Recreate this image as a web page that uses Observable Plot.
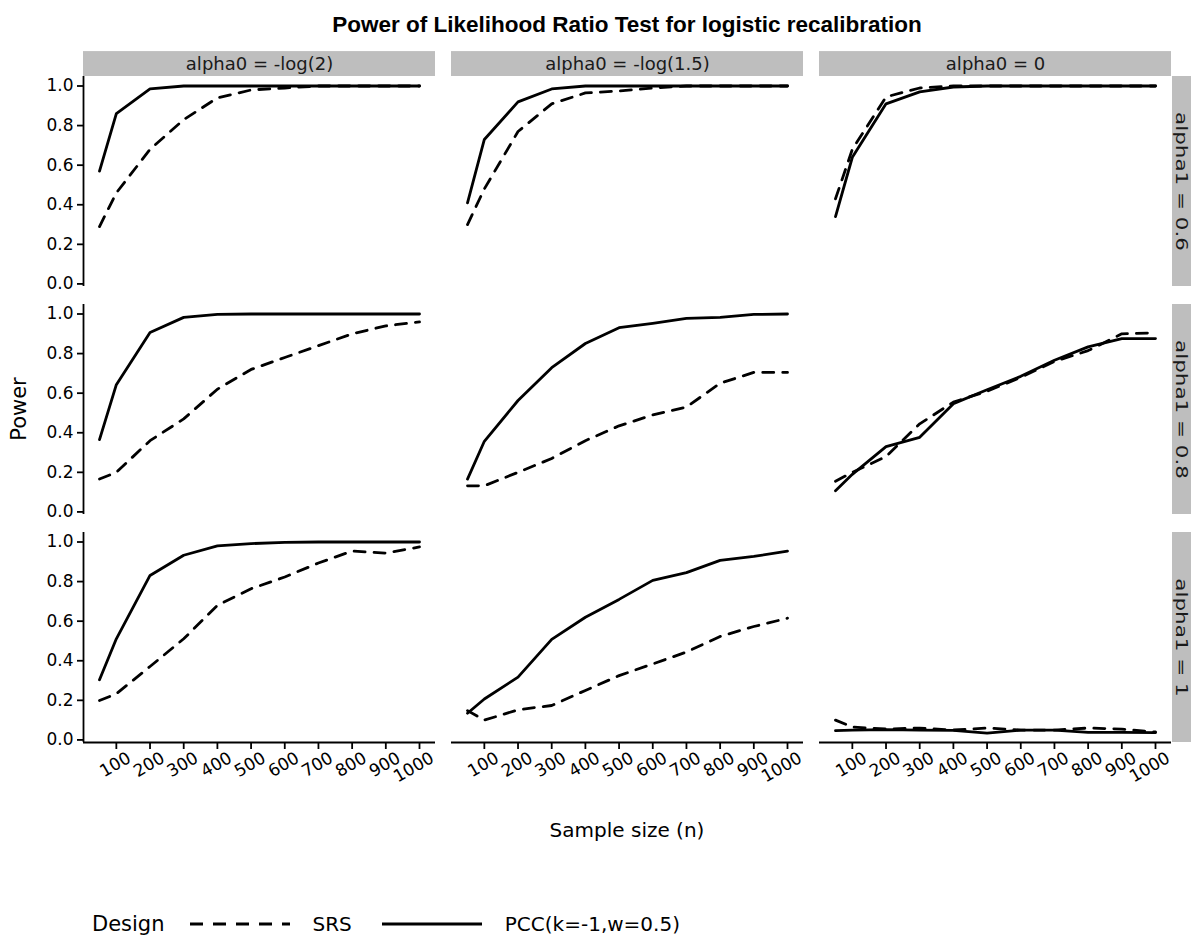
<!DOCTYPE html>
<html>
<head>
<meta charset="utf-8">
<script src="https://cdn.jsdelivr.net/npm/d3@7"></script>
<script src="https://cdn.jsdelivr.net/npm/@observablehq/plot@0.6"></script>
<style>
  html, body { margin: 0; padding: 0; background: #ffffff; }
  #wrap { position: relative; width: 1191px; height: 939px; background: #ffffff; font-family: "DejaVu Sans", sans-serif; color: #000; overflow: hidden; }
  #chart { position: absolute; left: 0; top: 0; }
  #title { position: absolute; left: 82px; width: 1090px; top: 12px; text-align: center; font-family: "Liberation Sans", Arial, sans-serif; font-weight: bold; font-size: 22.5px; line-height: 26px; }
  #ylab { position: absolute; left: 19px; top: 409px; transform: translate(-50%, -50%) rotate(-90deg); font-size: 21px; white-space: nowrap; }
  #xlab { position: absolute; left: 82px; width: 1090px; top: 818px; text-align: center; font-size: 20px; line-height: 24px; }
  #legend { position: absolute; left: 92px; top: 912px; display: flex; align-items: center; font-size: 20px; line-height: 24px; white-space: nowrap; }
  #legend .ttl { font-size: 21px; margin-right: 25px; }
  #legend svg { display: block; }
  #legend .lab { margin-left: 23px; margin-right: 30px; }
</style>
</head>
<body>
<div id="wrap">
  <div id="chart"></div>
  <div id="title"></div>
  <div id="ylab"></div>
  <div id="xlab"></div>
  <div id="legend"></div>
</div>
<script>
// ---- data ----
const sampleSizes = [50, 100, 200, 300, 400, 500, 600, 700, 800, 900, 1000];
const colLabels = ["alpha0 = -log(2)", "alpha0 = -log(1.5)", "alpha0 = 0"];
const rowLabels = ["alpha1 = 0.6", "alpha1 = 0.8", "alpha1 = 1"];
const designLabels = ["SRS", "PCC(k=-1,w=0.5)"];
const yTicks = [0, 0.2, 0.4, 0.6, 0.8, 1.0];
const xTicks = [100, 200, 300, 400, 500, 600, 700, 800, 900, 1000];
const titleText = "Power of Likelihood Ratio Test for logistic recalibration";
const xTitle = "Sample size (n)";
const yTitle = "Power";
const legendTitle = "Design";

// alpha1 = 0.6
const srs_a06_log2  = [0.29, 0.46, 0.68, 0.83, 0.94, 0.98, 0.99, 1.00, 1.00, 1.00, 1.00];
const pcc_a06_log2  = [0.57, 0.86, 0.985, 1.00, 1.00, 1.00, 1.00, 1.00, 1.00, 1.00, 1.00];
const srs_a06_log15 = [0.30, 0.48, 0.77, 0.91, 0.965, 0.975, 0.99, 1.00, 1.00, 1.00, 1.00];
const pcc_a06_log15 = [0.41, 0.73, 0.92, 0.985, 1.00, 1.00, 1.00, 1.00, 1.00, 1.00, 1.00];
const srs_a06_zero  = [0.43, 0.68, 0.945, 0.99, 1.00, 1.00, 1.00, 1.00, 1.00, 1.00, 1.00];
const pcc_a06_zero  = [0.34, 0.64, 0.91, 0.97, 0.995, 1.00, 1.00, 1.00, 1.00, 1.00, 1.00];
// alpha1 = 0.8
const srs_a08_log2  = [0.166, 0.20, 0.36, 0.47, 0.62, 0.72, 0.78, 0.84, 0.90, 0.94, 0.96];
const pcc_a08_log2  = [0.365, 0.643, 0.907, 0.983, 0.998, 1.00, 1.00, 1.00, 1.00, 1.00, 1.00];
const srs_a08_log15 = [0.132, 0.132, 0.20, 0.27, 0.36, 0.435, 0.49, 0.53, 0.65, 0.705, 0.705];
const pcc_a08_log15 = [0.166, 0.357, 0.563, 0.729, 0.851, 0.931, 0.953, 0.978, 0.983, 0.998, 1.00];
const srs_a08_zero  = [0.155, 0.20, 0.28, 0.445, 0.555, 0.61, 0.68, 0.76, 0.815, 0.90, 0.905];
const pcc_a08_zero  = [0.107, 0.19, 0.33, 0.377, 0.547, 0.617, 0.685, 0.766, 0.834, 0.876, 0.876];
// alpha1 = 1
const srs_a1_log2   = [0.199, 0.233, 0.371, 0.511, 0.68, 0.764, 0.823, 0.894, 0.954, 0.944, 0.975];
const pcc_a1_log2   = [0.304, 0.511, 0.831, 0.933, 0.98, 0.992, 0.998, 1.00, 1.00, 1.00, 1.00];
const srs_a1_log15  = [0.148, 0.10, 0.152, 0.174, 0.25, 0.325, 0.384, 0.444, 0.523, 0.573, 0.615];
const pcc_a1_log15  = [0.135, 0.207, 0.317, 0.508, 0.62, 0.71, 0.806, 0.845, 0.907, 0.927, 0.954];
const srs_a1_zero   = [0.10, 0.065, 0.055, 0.06, 0.05, 0.06, 0.05, 0.05, 0.06, 0.055, 0.04];
const pcc_a1_zero   = [0.047, 0.05, 0.052, 0.05, 0.048, 0.034, 0.05, 0.05, 0.038, 0.038, 0.037];

// ---- table built from the arrays ----
const seriesGrid = [
  [[srs_a06_log2, pcc_a06_log2], [srs_a06_log15, pcc_a06_log15], [srs_a06_zero, pcc_a06_zero]],
  [[srs_a08_log2, pcc_a08_log2], [srs_a08_log15, pcc_a08_log15], [srs_a08_zero, pcc_a08_zero]],
  [[srs_a1_log2,  pcc_a1_log2],  [srs_a1_log15,  pcc_a1_log15],  [srs_a1_zero,  pcc_a1_zero]]
];
const table = [];
rowLabels.forEach((r, ri) => colLabels.forEach((c, ci) => designLabels.forEach((d, di) => {
  seriesGrid[ri][ci][di].forEach((v, i) => table.push({alpha1: r, alpha0: c, design: d, n: sampleSizes[i], power: v}));
})));

// ---- layout ----
const W = 1191, H = 800;
const xDom = [2.5, 1047.5];
const yDom = [-0.013, 1.048];
const panelW = 352.6, panelH = 210.7;
const xUnit = panelW / (xDom[1] - xDom[0]);
const yUnit = panelH / (yDom[1] - yDom[0]);
const stripH = 25;
const stripFill = "#bebebe";

const topCells = colLabels.map(c => ({alpha0: c, alpha1: rowLabels[0], label: c}));
const rightCells = rowLabels.map(r => ({alpha0: colLabels[2], alpha1: r, label: r}));
const leftCells = rowLabels.map(r => ({alpha0: colLabels[0], alpha1: r}));
const bottomCells = colLabels.map(c => ({alpha0: c, alpha1: rowLabels[2]}));

const plot = Plot.plot({
  width: W, height: H,
  marginTop: 75.2, marginBottom: H - 742.6, marginLeft: 82, marginRight: W - 1172,
  facet: {marginTop: 0, marginRight: 0, marginBottom: 0, marginLeft: 0},
  style: {fontFamily: "DejaVu Sans, sans-serif", fontSize: "17px", color: "#000", background: "transparent", overflow: "visible"},
  fx: {domain: colLabels, paddingInner: 0.044, paddingOuter: 0, axis: null, label: null},
  fy: {domain: rowLabels, paddingInner: 0.0773, paddingOuter: 0, axis: null, label: null},
  x: {domain: xDom},
  y: {domain: yDom},
  marks: [
    // strips
    Plot.rect(topCells, {fx: "alpha0", fy: "alpha1", x1: xDom[0], x2: xDom[1], y1: yDom[1], y2: yDom[1] + stripH / yUnit, fill: stripFill}),
    Plot.text(topCells, {fx: "alpha0", fy: "alpha1", x: (xDom[0] + xDom[1]) / 2, y: yDom[1] + stripH / 2 / yUnit, text: "label", fontSize: 18, fill: "#1a1a1a"}),
    Plot.rect(rightCells, {fx: "alpha0", fy: "alpha1", x1: xDom[1] + 1 / xUnit, x2: xDom[1] + 30 / xUnit, y1: yDom[0], y2: yDom[1], fill: stripFill}),
    Plot.text(rightCells, {fx: "alpha0", fy: "alpha1", x: xDom[1] + 9.5 / xUnit, y: (yDom[0] + yDom[1]) / 2, text: "label", rotate: 90, fontSize: 16.5, fill: "#1a1a1a", className: "rstrip"}),
    // axis lines
    Plot.ruleX(leftCells, {fx: "alpha0", fy: "alpha1", x: xDom[0], y1: yDom[0], y2: yDom[1], stroke: "#000", strokeWidth: 1.8}),
    Plot.ruleY(bottomCells, {fx: "alpha0", fy: "alpha1", y: yDom[0], x1: xDom[0], x2: xDom[1], stroke: "#000", strokeWidth: 1.8}),
    // axes
    Plot.axisY({ticks: yTicks, tickFormat: d3.format(".1f"), tickSize: 6, tickPadding: 4, fontSize: 17, strokeWidth: 1.8, label: null}),
    Plot.axisX({ticks: xTicks, tickSize: 7, fill: "none", strokeWidth: 1.8, label: null}),
    Plot.axisX({ticks: xTicks, tickFormat: d => String(d), tickSize: 0, tickPadding: 9, tickRotate: -30, dx: 13, dy: 5, fontSize: 17, label: null}),
    // lines
    Plot.line(table.filter(d => d.design === designLabels[0]), {fx: "alpha0", fy: "alpha1", x: "n", y: "power", stroke: "#000", strokeWidth: 2.8, strokeDasharray: "11,9", strokeLinejoin: "round"}),
    Plot.line(table.filter(d => d.design === designLabels[1]), {fx: "alpha0", fy: "alpha1", x: "n", y: "power", stroke: "#000", strokeWidth: 2.8, strokeLinejoin: "round"})
  ]
});
document.getElementById("chart").appendChild(plot);

// the right strip labels are set wider along their own direction, as in the reference
d3.select(plot).selectAll(".rstrip text").each(function() {
  const t = this.getAttribute("transform") || "";
  this.setAttribute("transform", t + " scale(1.3,1)");
});

document.getElementById("title").textContent = titleText;
document.getElementById("ylab").textContent = yTitle;
document.getElementById("xlab").textContent = xTitle;

// legend
const leg = d3.select("#legend");
leg.append("span").attr("class", "ttl").text(legendTitle);
designLabels.forEach((d, i) => {
  const s = leg.append("svg").attr("width", 100).attr("height", 24);
  s.append("line").attr("x1", 0).attr("x2", 100).attr("y1", 12).attr("y2", 12)
    .attr("stroke", "#000").attr("stroke-width", 2.8)
    .attr("stroke-dasharray", i === 0 ? "13,10" : null);
  leg.append("span").attr("class", "lab").text(d);
});
</script>
</body>
</html>
